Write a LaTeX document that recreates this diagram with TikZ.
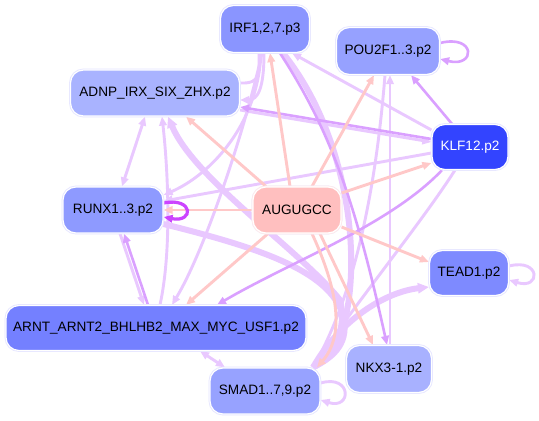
\documentclass[tikz,border=0pt]{standalone}
\usepackage{fontspec}
\setmainfont{Liberation Sans}
\usetikzlibrary{arrows.meta,backgrounds}
\definecolor{pinkE}{HTML}{FFC8C8}
\definecolor{lavE}{HTML}{E9C8FF}
\definecolor{purE}{HTML}{DAA0FF}
\definecolor{strE}{HTML}{CC44FF}
\definecolor{cIRF}{HTML}{8A95FF}
\definecolor{cADNP}{HTML}{A9B3FF}
\definecolor{cPOU}{HTML}{96A1FF}
\definecolor{cKLF}{HTML}{3344FF}
\definecolor{cRUNX}{HTML}{8E9AFF}
\definecolor{cAUG}{HTML}{FFBFBF}
\definecolor{cTEAD}{HTML}{7E8AFF}
\definecolor{cARNT}{HTML}{7480FF}
\definecolor{cSMAD}{HTML}{97A2FF}
\definecolor{cNKX}{HTML}{A8B1FF}
\begin{document}
\begin{tikzpicture}[x=1pt,y=-1pt,
  nd/.style={rounded corners=13pt, inner sep=0pt, draw=white, line width=1.2pt,
    preaction={draw=blue!10, line width=2.8pt},
    font=\fontsize{13.6}{16}\selectfont, text=black},
  tip/.style={-{Triangle[length=9pt,width=7.5pt]}},
  both/.style={{Triangle[length=9pt,width=7.5pt]}-{Triangle[length=9pt,width=7.5pt]}},
  bigtip/.style={-{Triangle[length=11pt,width=10pt]}},
  pk/.style={draw=pinkE, line width=2.9pt},
  lv/.style={draw=lavE, line width=2.9pt},
  pu/.style={draw=purE, line width=2.6pt},
  band/.style={draw=lavE, line width=6pt},
]
\useasboundingbox (0,0) rectangle (539,421);

\node[nd, fill=cIRF,  minimum width=89pt,  minimum height=47pt] (irf)  at (265,29)  {IRF1,2,7.p3};
\node[nd, fill=cADNP, minimum width=169pt, minimum height=46pt] (adnp) at (155,93)  {ADNP\_IRX\_SIX\_ZHX.p2};
\node[nd, fill=cPOU,  minimum width=103pt, minimum height=47pt] (pou)  at (388,51)  {POU2F1..3.p2};
\node[nd, fill=cKLF,  minimum width=76pt,  minimum height=45pt, text=white] (klf) at (470,147) {KLF12.p2};
\node[nd, fill=cRUNX, minimum width=100pt, minimum height=46pt] (runx) at (113,210) {RUNX1..3.p2};
\node[nd, fill=cAUG,  minimum width=88pt,  minimum height=46pt, preaction={draw=red!8, line width=2.8pt}] (aug) at (297,210) {AUGUGCC};
\node[nd, fill=cTEAD, minimum width=79pt,  minimum height=45pt] (tead) at (469,273) {TEAD1.p2};
\node[nd, fill=cARNT, minimum width=300pt, minimum height=45pt] (arnt) at (156,328) {ARNT\_ARNT2\_BHLHB2\_MAX\_MYC\_USF1.p2};
\node[nd, fill=cSMAD, minimum width=110pt, minimum height=46pt] (smad) at (265,391) {SMAD1..7,9.p2};
\node[nd, fill=cNKX,  minimum width=85pt,  minimum height=47pt] (nkx)  at (389,369) {NKX3-1.p2};

\begin{scope}[on background layer]
  \fill[white] (0,0) rectangle (539,421);
  % thick bands
  \draw[band] ([yshift=-14pt]runx.east) .. controls (260,248) and (335,272) .. (344,320)
     .. controls (348,345) and (332,358) .. ([xshift=48pt]smad.north);
  \draw[band,bigtip] ([xshift=48pt]smad.north) .. controls (335,355) and (347,328) .. (340,300)
     .. controls (300,250) and (195,180) .. ([xshift=13pt]adnp.south);
  \draw[band] ([xshift=18pt]irf.south) .. controls (345,130) and (362,250) .. (345,320)
     .. controls (340,345) and (330,358) .. ([xshift=48pt]smad.north);
  \draw[band,bigtip] ([xshift=48pt]smad.north) .. controls (340,320) and (385,292) .. ([yshift=-14pt]tead.west);
  % lavender
  \draw[lv,both] ([xshift=-10pt]adnp.south) -- ([xshift=9pt]runx.north);
  \draw[lv,tip] ([xshift=7pt]runx.south) -- ([xshift=-12pt]arnt.north);
  \draw[lv,tip] ([xshift=4pt]arnt.north) .. controls (172,250) and (168,170) .. ([xshift=7pt]adnp.south);
  \draw[lv,tip] ([xshift=-3pt]irf.south) .. controls (245,130) and (205,250) .. ([xshift=16pt]arnt.north);
  \draw[lv,tip] ([xshift=-4pt]irf.south) .. controls (258,125) and (210,175) .. ([yshift=15pt]runx.east);
  \draw[lv,tip] ([xshift=-1pt]irf.south) .. controls (264,88) and (258,100) .. ([yshift=-7pt]adnp.east);
  \draw[lv] ([yshift=10pt]adnp.east) .. controls (262,84) and (259,72) .. ([xshift=-6pt]irf.south);
  \draw[lv,tip] ([yshift=-17pt]adnp.east) -- ([yshift=5pt]klf.west);
  \draw[lv,tip] ([yshift=17pt]klf.west) -- ([xshift=27pt]irf.south);
  \draw[lv,tip] ([yshift=-6pt]klf.west) -- ([yshift=9pt]runx.east);
  \draw[lv] ([xshift=-15pt]klf.south) .. controls (420,225) and (350,310) .. ([xshift=48pt]smad.north);
  \draw[lv] ([xshift=-3pt]pou.south) .. controls (375,200) and (352,300) .. ([xshift=48pt]smad.north);
  \draw[lv,tip] ([xshift=1pt]nkx.north) -- ([xshift=2pt]pou.south);
  \draw[lv,both] ([xshift=44pt]arnt.south) -- ([xshift=-40pt]smad.north);
  \draw[lv,tip] ([yshift=7pt]tead.east) .. controls (541,258) and (541,290) .. ([yshift=-7pt]tead.east);
  \draw[lv,tip] ([yshift=8pt]smad.east) .. controls (352,374) and (352,410) .. ([yshift=-9pt]smad.east);
  % medium purple
  \draw[pu,tip] ([xshift=-8pt]arnt.north) -- ([xshift=11pt]runx.south);
  \draw[pu,tip] ([yshift=8pt]klf.west) -- ([yshift=-14pt]adnp.east);
  \draw[pu,tip] ([xshift=-18pt]klf.north) -- ([xshift=23pt]pou.south);
  \draw[pu,tip] ([yshift=8pt]pou.east) .. controls (476,34) and (476,68) .. ([yshift=-8pt]pou.east);
  \draw[pu,tip] ([xshift=-28pt]klf.south) .. controls (390,225) and (290,262) .. ([xshift=61pt]arnt.north);
  \draw[pu,tip] ([xshift=15pt]irf.south) .. controls (330,130) and (355,200) .. ([xshift=-2pt]nkx.north);
  % pink from AUGUGCC
  \draw[pk,tip] ([xshift=-7pt]aug.north) -- ([xshift=5pt]irf.south);
  \draw[pk,tip] ([xshift=-31pt]aug.north) -- ([xshift=31pt]adnp.south);
  \draw[pk,tip] ([xshift=15pt]aug.north) -- ([xshift=-14pt]pou.south);
  \draw[pk,tip] ([yshift=17pt]aug.east) -- ([yshift=-16pt]klf.west);
  \draw[pk,tip] (aug.west) -- (runx.east);
  \draw[pk,tip] ([yshift=-17pt]aug.east) -- ([yshift=11pt]tead.west);
  \draw[pk,tip] ([xshift=-29pt]aug.south) -- ([xshift=30pt]arnt.north);
  \draw[pk,tip] ([xshift=15pt]aug.south) .. controls (338,290) and (345,335) .. ([xshift=52pt]smad.north);
  \draw[pk,tip] ([xshift=23pt]aug.south) -- ([xshift=-16pt]nkx.north);
  % strong self loop
  \draw[draw=strE, line width=3.2pt, tip] ([yshift=7pt]runx.east) .. controls (194,197) and (194,223) .. ([yshift=-7pt]runx.east);
\end{scope}
\end{tikzpicture}
\end{document}
